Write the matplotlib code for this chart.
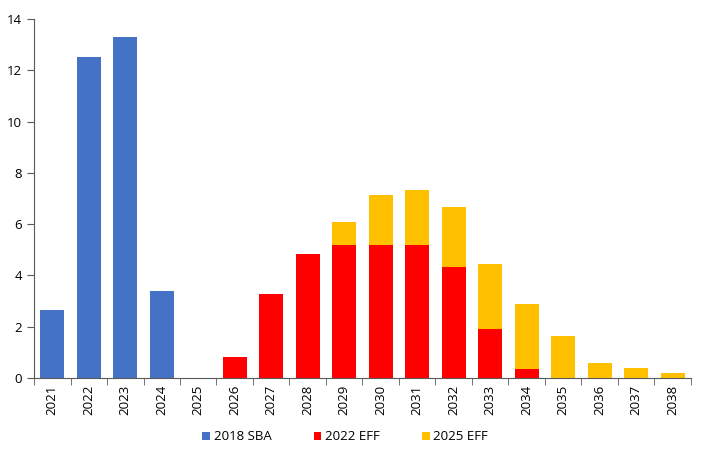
import matplotlib.pyplot as plt
import numpy as np

plt.rcParams['font.family'] = ['Open Sans', 'DejaVu Sans']

years = [str(y) for y in range(2021, 2039)]
sba_2018 = [2.64, 12.53, 13.30, 3.41, 0, 0, 0, 0, 0, 0, 0, 0, 0, 0, 0, 0, 0, 0]
eff_2022 = [0, 0, 0, 0, 0, 0.81, 3.27, 4.83, 5.18, 5.18, 5.18, 4.33, 1.93, 0.34, 0, 0, 0, 0]
eff_2025 = [0, 0, 0, 0, 0, 0, 0, 0, 0.90, 1.95, 2.14, 2.33, 2.50, 2.54, 1.64, 0.57, 0.39, 0.21]

x = np.arange(len(years))
fig = plt.figure(figsize=(7.08, 4.58), dpi=100)
ax = fig.add_axes([34/708, 1 - 378/458, (691-34)/708, (378-19)/458])

w = 0.66
ax.bar(x, sba_2018, w, color='#4472C4', label='2018 SBA')
ax.bar(x, eff_2022, w, bottom=sba_2018, color='#FF0000', label='2022 EFF')
bottom2 = np.array(sba_2018) + np.array(eff_2022)
ax.bar(x, eff_2025, w, bottom=bottom2, color='#FFC000', label='2025 EFF')

ax.set_xlim(-0.5, len(years) - 0.5)
ax.set_ylim(0, 14)
ax.set_yticks(range(0, 15, 2))
ax.set_xticks(x)
ax.set_xticklabels(years, rotation=90)
ax.set_xticks(np.arange(-0.5, len(years)), minor=True)
ax.tick_params(axis='x', which='major', length=0, pad=5, labelsize=9.5)
ax.tick_params(axis='x', which='minor', length=5, direction='out', color='#595959')
ax.tick_params(axis='y', length=5, direction='out', color='#595959', labelsize=9.5)
for s in ['top', 'right']:
    ax.spines[s].set_visible(False)
for s in ['left', 'bottom']:
    ax.spines[s].set_color('#595959')

fig.legend(loc='center', bbox_to_anchor=(345/708, 1 - 437/458), ncol=3, frameon=False,
           fontsize=9.5, handlelength=0.6, handleheight=0.6, columnspacing=3.2, handletextpad=0.25)

fig.savefig('out.png', dpi=100)
